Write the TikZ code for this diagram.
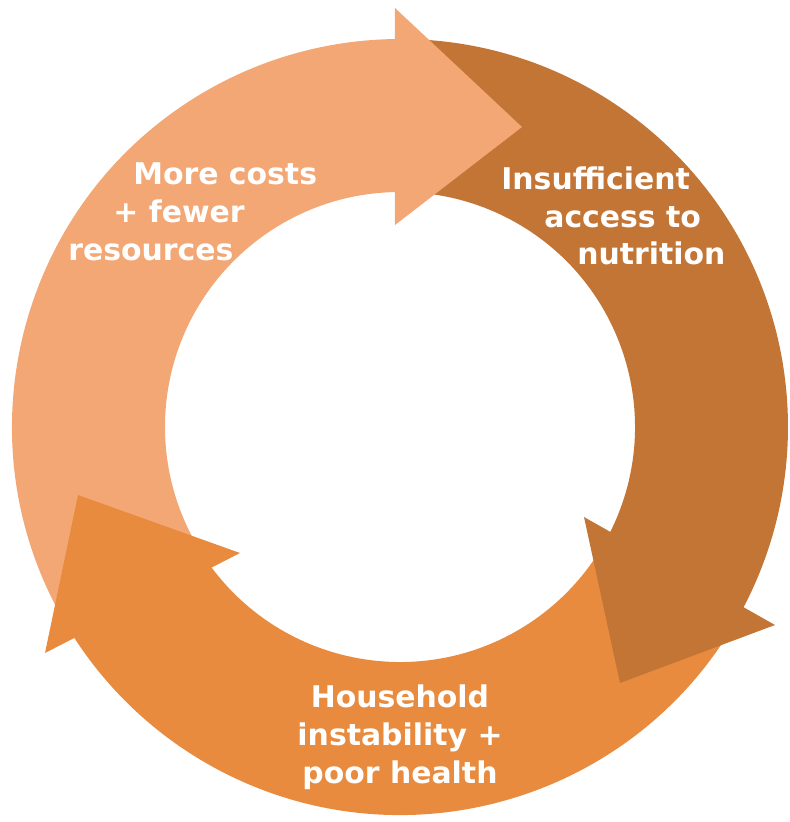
\documentclass[tikz,border=0pt]{standalone}
\usepackage{fontspec}
\setmainfont{DejaVu Sans}
\usepackage{tikz}

\definecolor{costscol}{HTML}{F3A775}
\definecolor{accesscol}{HTML}{C37535}
\definecolor{healthcol}{HTML}{E88B3E}

\tikzset{
  label/.style={text=white, inner sep=0pt, font=\bfseries\fontsize{17}{21.5}\selectfont},
}

\begin{document}
\begin{tikzpicture}
\useasboundingbox (-8.0,-7.9) rectangle (7.8,8.54);
% shafts
\fill[costscol] (212:7.76) arc[start angle=212, end angle=90.5, radius=7.76] -- (90.5:4.70) arc[start angle=90.5, end angle=212, radius=4.70] -- cycle;
\fill[accesscol] (90.5:7.76) arc[start angle=90.5, end angle=-28, radius=7.76] -- (-28:4.70) arc[start angle=-28, end angle=90.5, radius=4.70] -- cycle;
\fill[healthcol] (-28:7.76) arc[start angle=-28, end angle=-148, radius=7.76] -- (-148:4.70) arc[start angle=-148, end angle=-28, radius=4.70] -- cycle;
% heads
\fill[costscol] (-0.10,4.04) -- (-0.10,8.38) -- (2.44,6.00) -- cycle;
\fill[accesscol] (3.68,-1.80) -- (7.50,-3.96) -- (4.40,-5.12) -- cycle;
\fill[healthcol] (-3.20,-2.52) -- (-7.10,-4.52) -- (-6.44,-1.36) -- cycle;
% labels
\node[label, align=left, anchor=west] (costs) at (-6.64,4.30) {\hspace*{1.3cm}More costs\\\hspace*{0.9cm}+ fewer\\resources};
\node[label, align=left, anchor=west] (access) at (2.02,4.22) {Insufficient\\\hspace*{0.86cm}access to\\\hspace*{1.52cm}nutrition};
\node[label, align=center] (health) at (0,-6.20) {Household\\instability +\\poor health};
\end{tikzpicture}
\end{document}
